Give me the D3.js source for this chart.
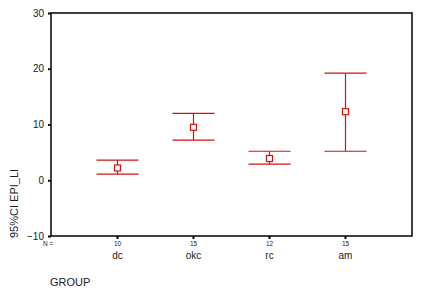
<!DOCTYPE html>
<html>
<head>
<meta charset="utf-8">
<script src="https://cdn.jsdelivr.net/npm/d3@7"></script>
<style>
  body { margin: 0; background: #fff; }
  text { font-family: Arial, "Liberation Sans", sans-serif; fill: #222; }
</style>
</head>
<body>
<div id="chart"></div>
<script>
// values
const groups = ['dc', 'okc', 'rc', 'am'];
const counts = [10, 15, 12, 15];
const means = [2.2, 9.5, 3.9, 12.3];
const lower = [1.1, 7.2, 2.9, 5.2];
const upper = [3.6, 12.0, 5.2, 19.2];
const yTicks = [-10, 0, 10, 20, 30];

const W = 425, H = 295;
const margin = { top: 13, right: 13, bottom: 59, left: 51 };
const width = W - margin.left - margin.right;
const height = H - margin.top - margin.bottom;
const red = '#cc1414';

const svg = d3.select('#chart').append('svg')
  .attr('width', W)
  .attr('height', H);

const g = svg.append('g')
  .attr('transform', `translate(${margin.left},${margin.top})`);

const x = d3.scalePoint()
  .domain(groups)
  .range([0, width])
  .padding(0.875);

const y = d3.scaleLinear()
  .domain([-10, 30])
  .range([height, 0]);

// frame
g.append('rect')
  .attr('width', width)
  .attr('height', height)
  .attr('fill', 'none')
  .attr('stroke', '#000')
  .attr('stroke-width', 1.5);

// y axis
g.append('g')
  .call(d3.axisLeft(y).tickValues(yTicks).tickSize(3).tickPadding(4))
  .call(a => a.select('.domain').remove())
  .call(a => a.selectAll('.tick line').attr('stroke', '#000').attr('stroke-width', 2))
  .call(a => a.selectAll('.tick text').attr('font-size', 10).attr('font-family', 'Arial, "Liberation Sans", sans-serif').attr('fill', '#222'));

// x axis: ticks with N counts, then group names
const xa = g.append('g')
  .attr('transform', `translate(0,${height})`);

xa.selectAll('.xt')
  .data(groups)
  .enter().append('line')
  .attr('class', 'xt')
  .attr('x1', d => x(d))
  .attr('x2', d => x(d))
  .attr('y1', 0)
  .attr('y2', 3)
  .attr('stroke', '#000')
  .attr('stroke-width', 2);

xa.selectAll('.nlab')
  .data(groups)
  .enter().append('text')
  .attr('class', 'nlab')
  .attr('x', d => x(d))
  .attr('y', 10)
  .attr('text-anchor', 'middle')
  .attr('font-size', 6.5)
  .text((d, i) => counts[i]);

xa.append('text')
  .attr('x', -8)
  .attr('y', 10)
  .attr('text-anchor', 'start')
  .attr('font-size', 6.5)
  .text('N =');

xa.selectAll('.glab')
  .data(groups)
  .enter().append('text')
  .attr('class', 'glab')
  .attr('x', d => x(d))
  .attr('y', 23)
  .attr('text-anchor', 'middle')
  .attr('font-size', 10)
  .text(d => d);

svg.append('text')
  .attr('x', 50)
  .attr('y', 286)
  .attr('font-size', 11)
  .text('GROUP');

svg.append('text')
  .attr('transform', 'translate(18,238) rotate(-90)')
  .attr('text-anchor', 'start')
  .attr('font-size', 11)
  .text('95%CI EPI_LI');

// error bars
const cap = 21;
const bars = g.selectAll('.bar')
  .data(groups)
  .enter().append('g')
  .attr('class', 'bar');

bars.append('line')
  .attr('x1', d => x(d))
  .attr('x2', d => x(d))
  .attr('y1', (d, i) => y(upper[i]))
  .attr('y2', (d, i) => y(lower[i]))
  .attr('stroke', red)
  .attr('stroke-width', 1.2);

bars.append('line')
  .attr('x1', d => x(d) - cap)
  .attr('x2', d => x(d) + cap)
  .attr('y1', (d, i) => y(upper[i]))
  .attr('y2', (d, i) => y(upper[i]))
  .attr('stroke', red)
  .attr('stroke-width', 1.2);

bars.append('line')
  .attr('x1', d => x(d) - cap)
  .attr('x2', d => x(d) + cap)
  .attr('y1', (d, i) => y(lower[i]))
  .attr('y2', (d, i) => y(lower[i]))
  .attr('stroke', red)
  .attr('stroke-width', 1.2);

bars.append('rect')
  .attr('x', d => x(d) - 3)
  .attr('y', (d, i) => y(means[i]) - 3)
  .attr('width', 6)
  .attr('height', 6)
  .attr('fill', '#fff')
  .attr('stroke', red)
  .attr('stroke-width', 1.2);
</script>
</body>
</html>
